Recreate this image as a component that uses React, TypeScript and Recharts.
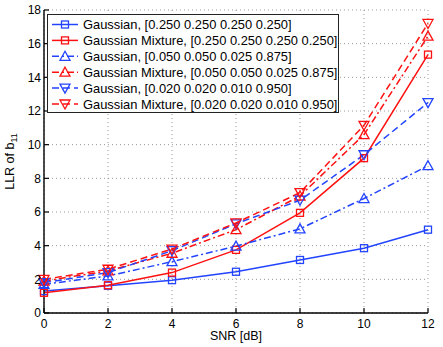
import React from 'react';
import { LineChart, Line, XAxis, YAxis, CartesianGrid, Legend } from 'recharts';

const snr = [0, 2, 4, 6, 8, 10, 12];
const gaussUniform = [1.3, 1.62, 1.95, 2.45, 3.15, 3.85, 4.95];
const gmUniform = [1.2, 1.65, 2.4, 3.75, 5.95, 9.2, 15.35];
const gaussSkew = [1.7, 2.2, 3.05, 3.97, 5.0, 6.8, 8.75];
const gmSkew = [1.9, 2.5, 3.55, 4.95, 6.95, 10.6, 16.45];
const gaussVerySkew = [1.8, 2.4, 3.7, 5.3, 6.7, 9.4, 12.5];
const gmVerySkew = [2.0, 2.6, 3.8, 5.35, 7.15, 11.15, 17.2];

const xTicks = [0, 2, 4, 6, 8, 10, 12];
const yTicks = [0, 2, 4, 6, 8, 10, 12, 14, 16, 18];

const BLUE = '#2244ff';
const RED = '#ff1111';
const FONT = '"Liberation Sans", Arial, Helvetica, sans-serif';

type Shape = 'square' | 'up' | 'down';

const seriesDefs: { key: string; label: string; color: string; shape: Shape; dash?: string }[] = [
  { key: 'gaussUniform', label: 'Gaussian, [0.250 0.250 0.250 0.250]', color: BLUE, shape: 'square' },
  { key: 'gmUniform', label: 'Gaussian Mixture, [0.250 0.250 0.250 0.250]', color: RED, shape: 'square' },
  { key: 'gaussSkew', label: 'Gaussian, [0.050 0.050 0.025 0.875]', color: BLUE, shape: 'up', dash: '7 3 2 3' },
  { key: 'gmSkew', label: 'Gaussian Mixture, [0.050 0.050 0.025 0.875]', color: RED, shape: 'up', dash: '7 3 2 3' },
  { key: 'gaussVerySkew', label: 'Gaussian, [0.020 0.020 0.010 0.950]', color: BLUE, shape: 'down', dash: '7 4' },
  { key: 'gmVerySkew', label: 'Gaussian Mixture, [0.020 0.020 0.010 0.950]', color: RED, shape: 'down', dash: '7 4' },
];

const data = snr.map((s, i) => ({
  snr: s,
  gaussUniform: gaussUniform[i],
  gmUniform: gmUniform[i],
  gaussSkew: gaussSkew[i],
  gmSkew: gmSkew[i],
  gaussVerySkew: gaussVerySkew[i],
  gmVerySkew: gmVerySkew[i],
}));

function Marker({ shape, cx, cy, color }: { shape: Shape; cx: number; cy: number; color: string }) {
  if (cx == null || cy == null) return null;
  if (shape === 'square') {
    return <rect x={cx - 3.5} y={cy - 3.5} width={7} height={7} fill="none" stroke={color} strokeWidth={1.3} />;
  }
  if (shape === 'up') {
    return (
      <polygon
        points={`${cx},${cy - 5} ${cx + 5},${cy + 4} ${cx - 5},${cy + 4}`}
        fill="none"
        stroke={color}
        strokeWidth={1.3}
      />
    );
  }
  return (
    <polygon
      points={`${cx},${cy + 5} ${cx + 5},${cy - 4} ${cx - 5},${cy - 4}`}
      fill="none"
      stroke={color}
      strokeWidth={1.3}
    />
  );
}

const makeDot = (shape: Shape, color: string) => (props: any) => (
  <Marker key={`${shape}-${color}-${props.index}`} shape={shape} cx={props.cx} cy={props.cy} color={color} />
);

function LegendBox() {
  const rowH = 15.9;
  return (
    <div style={{ background: '#fff', border: '1px solid #222', width: 290, height: 97, fontFamily: FONT }}>
      <svg width={290} height={97} style={{ display: 'block' }}>
        {seriesDefs.map((s, i) => {
          const y = 9.5 + i * rowH;
          return (
            <g key={s.key}>
              <line x1={4} x2={30} y1={y} y2={y} stroke={s.color} strokeWidth={1.5} strokeDasharray={s.dash} />
              <Marker shape={s.shape} cx={17} cy={y} color={s.color} />
              <text x={35} y={y + 4.6} fontSize={12.9} fill="#000" fontFamily={FONT}>
                {s.label}
              </text>
            </g>
          );
        })}
      </svg>
    </div>
  );
}

function YLabel(props: any) {
  const vb = props.viewBox || { x: 0, y: 10, width: 0, height: 303 };
  const cx = 14;
  const cy = vb.y + vb.height / 2;
  return (
    <text
      transform={`translate(${cx},${cy}) rotate(-90)`}
      textAnchor="middle"
      fontSize={12.5}
      fontFamily={FONT}
      fill="#000"
    >
      <tspan>LLR of b</tspan>
      <tspan dy={3} fontSize={9}>11</tspan>
    </text>
  );
}

export default function App() {
  const tickStyle = { fill: '#000', fontSize: 12, fontFamily: FONT };
  return (
    <div style={{ position: 'absolute', left: 0, top: 0, background: '#fff' }}>
      <LineChart
        width={443}
        height={347}
        data={data}
        margin={{ top: 10, right: 15, bottom: 0, left: 10 }}
        style={{ fontFamily: FONT }}
      >
        <CartesianGrid stroke="#999" strokeDasharray="1 3" strokeWidth={1} />
        <XAxis
          dataKey="snr"
          type="number"
          domain={[0, 12]}
          ticks={xTicks}
          interval={0}
          height={34}
          tickSize={-5}
          tickMargin={11}
          tick={tickStyle}
          axisLine={{ stroke: '#000', strokeWidth: 1.4 }}
          tickLine={{ stroke: '#000', strokeWidth: 1.2 }}
          label={{ value: 'SNR [dB]', position: 'insideBottom', offset: 7, fill: '#000', fontSize: 12.5, fontFamily: FONT }}
        />
        <XAxis
          xAxisId="top"
          orientation="top"
          type="number"
          domain={[0, 12]}
          ticks={xTicks}
          interval={0}
          height={0}
          mirror
          tick={false}
          tickSize={5}
          axisLine={{ stroke: '#000', strokeWidth: 1.4 }}
          tickLine={{ stroke: '#000', strokeWidth: 1.2 }}
        />
        <YAxis
          type="number"
          domain={[0, 18]}
          ticks={yTicks}
          interval={0}
          width={34}
          tickSize={-5}
          tickMargin={8}
          tick={tickStyle}
          axisLine={{ stroke: '#000', strokeWidth: 1.4 }}
          tickLine={{ stroke: '#000', strokeWidth: 1.2 }}
          label={(p: any) => <YLabel {...p} />}
        />
        <YAxis
          yAxisId="right"
          orientation="right"
          type="number"
          domain={[0, 18]}
          ticks={yTicks}
          interval={0}
          width={0}
          mirror
          tick={false}
          tickSize={5}
          axisLine={{ stroke: '#000', strokeWidth: 1.4 }}
          tickLine={{ stroke: '#000', strokeWidth: 1.2 }}
        />
        {seriesDefs.map((s) => (
          <Line
            key={s.key}
            dataKey={s.key}
            type="linear"
            stroke={s.color}
            strokeWidth={1.5}
            strokeDasharray={s.dash}
            dot={makeDot(s.shape, s.color)}
            activeDot={false}
            isAnimationActive={false}
          />
        ))}
        <Legend
          layout="vertical"
          align="center"
          verticalAlign="middle"
          content={() => <LegendBox />}
          wrapperStyle={{ left: 47, top: 14, width: 292, height: 99 }}
        />
      </LineChart>
    </div>
  );
}
